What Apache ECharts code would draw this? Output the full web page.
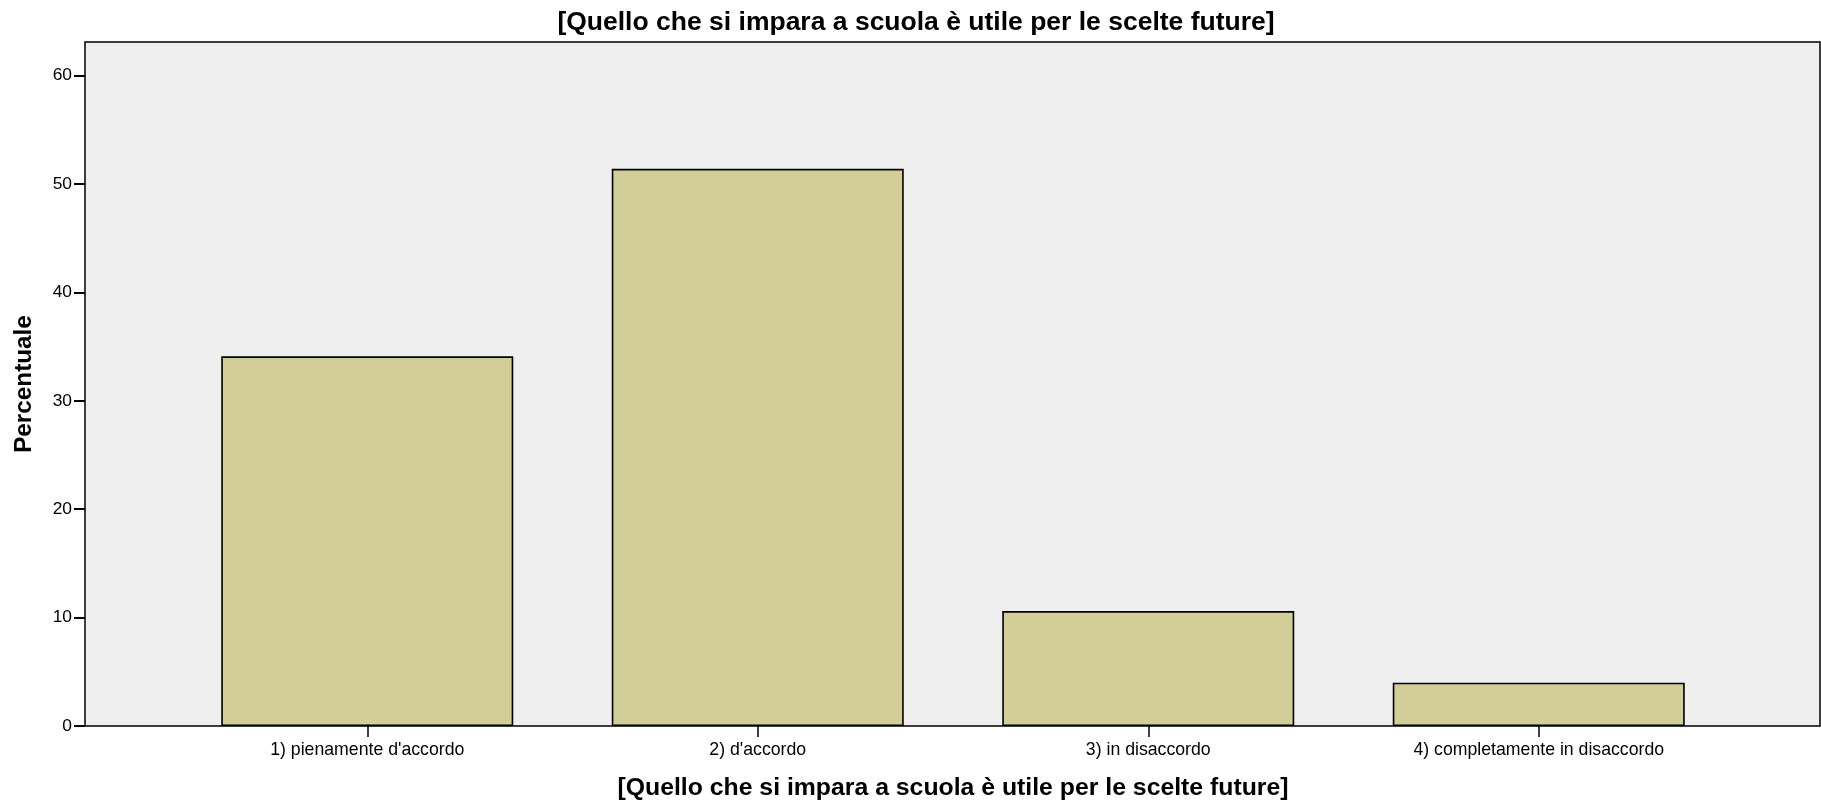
<!DOCTYPE html>
<html>
<head>
<meta charset="utf-8">
<script src="https://cdn.jsdelivr.net/npm/echarts@6/dist/echarts.min.js"></script>
<style>html,body{margin:0;padding:0;background:#fff;}#main{width:1821px;height:811px;}</style>
</head>
<body>
<div id="main"></div>
<script>
const titleText = "[Quello che si impara a scuola è utile per le scelte future]";
const xAxisTitle = "[Quello che si impara a scuola è utile per le scelte future]";
const yAxisTitle = "Percentuale";
const categories = ["1) pienamente d'accordo", "2) d'accordo", "3) in disaccordo", "4) completamente in disaccordo"];
const percentages = [34.1, 51.4, 10.6, 4.0];
const yMin = 0, yMax = 63.1, yInterval = 10;

const chart = echarts.init(document.getElementById('main'), null, {renderer: 'canvas'});
const font = 'Liberation Sans, Arial, sans-serif';
chart.setOption({
  animation: false,
  backgroundColor: '#ffffff',
  title: {
    text: titleText, left: 911, top: 4, textAlign: 'center',
    textStyle: {fontFamily: font, fontWeight: 'bold', fontSize: 26.5, color: '#000'}
  },
  grid: [
    {left: 85, top: 42, width: 1735, height: 684, show: true, backgroundColor: '#efefef', borderColor: '#000', borderWidth: 1.5, z: 0},
    {left: 172, top: 42, width: 1562, height: 684}
  ],
  xAxis: [
    {type: 'value', gridIndex: 0, show: false, min: 0, max: 1},
    {type: 'category', gridIndex: 1, data: categories,
     axisLine: {show: false},
     axisTick: {show: true, alignWithLabel: true, length: 11, lineStyle: {color: '#000', width: 1.5}},
     axisLabel: {color: '#000', fontFamily: font, fontSize: 17.7, margin: 15},
     name: xAxisTitle, nameLocation: 'middle', nameGap: 50,
     nameTextStyle: {fontFamily: font, fontWeight: 'bold', fontSize: 24.8, color: '#000'}}
  ],
  yAxis: [
    {type: 'value', gridIndex: 0, min: yMin, max: yMax, interval: yInterval,
     axisLine: {show: false}, splitLine: {show: false},
     axisTick: {show: true, length: 11, lineStyle: {color: '#000', width: 2}},
     axisLabel: {color: '#000', fontFamily: font, fontSize: 17.4, margin: 13,
       showMaxLabel: false},
     name: yAxisTitle, nameLocation: 'middle', nameGap: 49, nameRotate: 90,
     nameTextStyle: {fontFamily: font, fontWeight: 'bold', fontSize: 24.3, color: '#000'}},
    {type: 'value', gridIndex: 1, min: yMin, max: yMax, interval: yInterval, show: false}
  ],
  series: [{
    type: 'bar', xAxisIndex: 1, yAxisIndex: 1, data: percentages, barWidth: 292,
    itemStyle: {color: '#d3ce97', borderColor: '#000', borderWidth: 1.6}
  }]
});
</script>
</body>
</html>
